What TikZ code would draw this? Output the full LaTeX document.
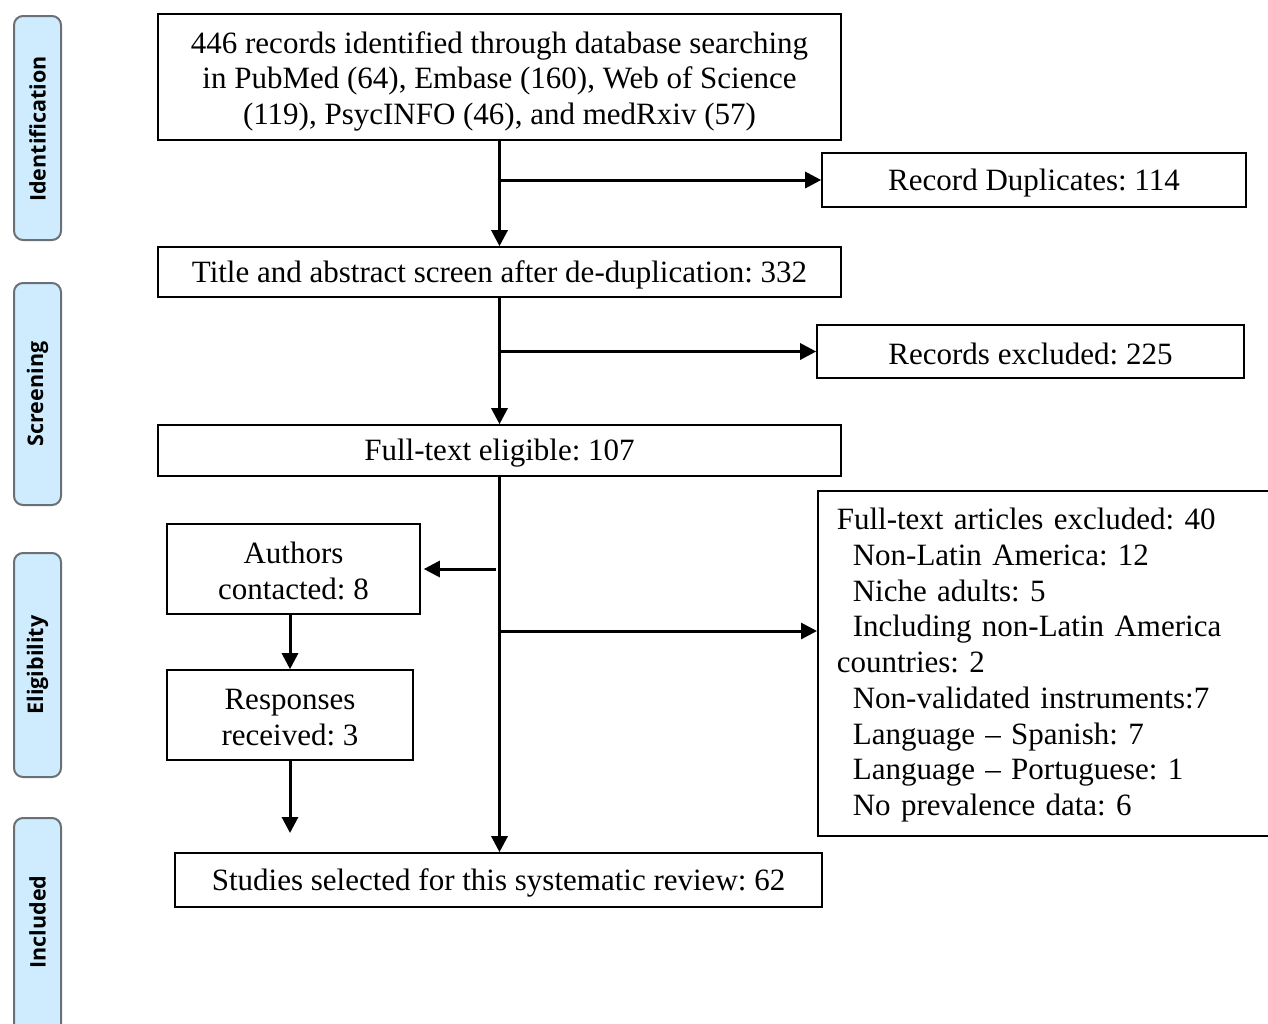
\documentclass[tikz,border=0pt]{standalone}
\usepackage{fontspec}
\setmainfont{Liberation Serif}
\newfontfamily\tabfont{Open Sans}
\usetikzlibrary{arrows.meta}
\definecolor{tabfill}{RGB}{206,236,253}
\definecolor{tabdraw}{RGB}{105,112,118}
\begin{document}
\frenchspacing
\begin{tikzpicture}[x=1pt,y=-1pt,
  box/.style={draw, line width=1.6pt, inner sep=0pt, align=center,
    font=\fontsize{31}{35.6}\selectfont},
  listbox/.style={draw, line width=1.6pt, inner sep=0pt, align=left,
    font=\fontsize{31}{35.75}\selectfont},
  arr/.style={line width=3pt, -{Triangle[length=16pt,width=16pt]}},
  tab/.style={draw=tabdraw, line width=2pt, fill=tabfill, rounded corners=9pt},
  tabtext/.style={rotate=90, font=\tabfont\bfseries\fontsize{21.5}{24}\selectfont}]
\useasboundingbox (0,0) rectangle (1268,1023);
% phase tabs
\draw[tab] (14,16) rectangle (61,240);
\node[tabtext] (tid) at (37.5,129) {Identification};
\draw[tab] (14,283) rectangle (61,505);
\node[tabtext] (tsc) at (37.5,394) {Screening};
\draw[tab] (14,553) rectangle (61,777);
\node[tabtext] (tel) at (37.5,665) {Eligibility};
\draw[tab] (14,818) rectangle (61,1060);
\node[tabtext] (tin) at (37.5,922) {Included};
% boxes
\node[box, minimum width=683pt, minimum height=126pt] (top) at (499.5,77)
  {\rule{0pt}{30pt}446 records identified through database searching\\in PubMed (64), Embase (160), Web of Science\\(119), PsycINFO (46), and medRxiv (57)};
\node[box, minimum width=424pt, minimum height=54pt] (dup) at (1034,180) {\rule{0pt}{27pt}Record Duplicates: 114};
\node[box, minimum width=683pt, minimum height=50pt] (title) at (499.5,272) {\rule{0pt}{27pt}Title and abstract screen after de-duplication: 332};
\node[box, minimum width=427pt, minimum height=53pt] (recex) at (1030.5,351.5) {\rule{0pt}{26pt}Records excluded: 225};
\node[box, minimum width=683pt, minimum height=51pt] (full) at (499.5,450.5) {\rule{0pt}{27pt}Full-text eligible: 107};
\node[listbox, anchor=north west, minimum width=456pt, minimum height=345pt,
  text width=420pt, inner xsep=19pt] (ftex) at (817,490)
  {\rule{0pt}{25pt}Full-text articles excluded: 40\\
   \hspace*{16pt}Non-Latin America: 12\\
   \hspace*{16pt}Niche adults: 5\\
   \hspace*{16pt}Including non-Latin America\\
   countries: 2\\
   \hspace*{16pt}Non-validated instruments:7\\
   \hspace*{16pt}Language -- Spanish: 7\\
   \hspace*{16pt}Language -- Portuguese: 1\\
   \hspace*{16pt}No prevalence data: 6};
\node[box, minimum width=253pt, minimum height=90pt] (auth) at (293.5,569) {\rule{0pt}{26pt}Authors\\contacted: 8};
\node[box, minimum width=246pt, minimum height=90pt] (resp) at (290,715) {\rule{0pt}{26pt}Responses\\received: 3};
\node[box, minimum width=647pt, minimum height=54pt] (stud) at (498.5,880) {\rule{0pt}{27pt}Studies selected for this systematic review: 62};
% connectors
\draw[arr] (top.south) -- (title.north);
\draw[arr] (top.south |- dup.west) -- (dup.west);
\draw[arr] (title.south) -- (full.north);
\draw[arr] (title.south |- recex.west) -- (recex.west);
\draw[arr] (full.south) -- (full.south |- stud.north);
\coordinate (j3) at (499.5,631);
\draw[arr] (j3) -- (j3 -| ftex.west);
\coordinate (j2) at (496,569);
\draw[arr] (j2) -- ([xshift=3pt]auth.east);
\draw[arr] (resp.north |- auth.south) -- (resp.north);
\coordinate (e) at (290,833);
\draw[arr] (resp.south) -- (e);
\end{tikzpicture}
\end{document}
